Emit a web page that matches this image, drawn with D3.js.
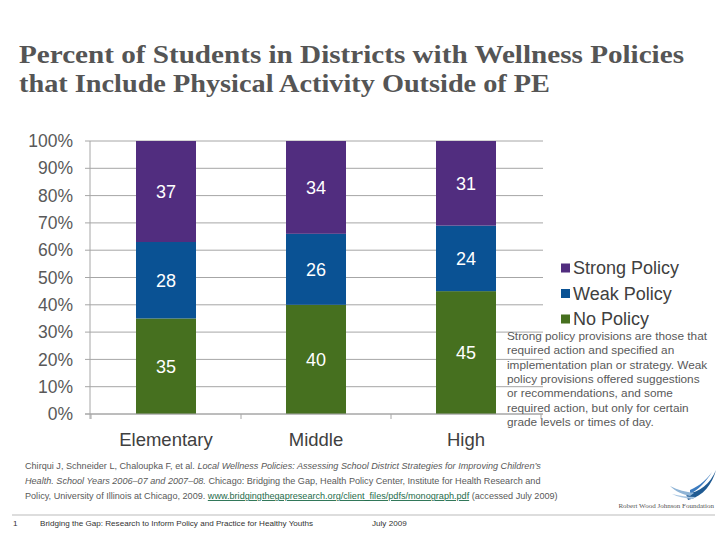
<!DOCTYPE html>
<html><head><meta charset="utf-8">
<script src="https://cdn.jsdelivr.net/npm/d3@7/dist/d3.min.js"></script>
<style>body{margin:0;background:#fff}svg{display:block}</style>
</head><body>
<svg id="c" width="720" height="540"></svg>
<script>
const categories = ["Elementary", "Middle", "High"];
const seriesNames = ["No Policy", "Weak Policy", "Strong Policy"];
const noPolicy = [35, 40, 45];
const weakPolicy = [28, 26, 24];
const strongPolicy = [37, 34, 31];
const yTicks = [0, 10, 20, 30, 40, 50, 60, 70, 80, 90, 100];
const colors = ["#46701f", "#0a5294", "#512d7f"];
const titleLines = ["Percent of Students in Districts with Wellness Policies", "that Include Physical Activity Outside of PE"];
const noteLines = ["Strong policy provisions are those that", "required action and specified an", "implementation plan or strategy. Weak", "policy provisions offered suggestions", "or recommendations, and some", "required action, but only for certain", "grade levels or times of day."];

const svg = d3.select("#c");
const F = "Liberation Sans, Arial, sans-serif";

// title
svg.append("g").selectAll("text").data(titleLines).join("text")
  .attr("x", 19).attr("y", (d, i) => 63 + i * 29)
  .attr("font-family", "Liberation Serif, Times New Roman, serif").attr("font-weight", "bold")
  .attr("font-size", 26).attr("fill", "#555")
  .attr("textLength", (d, i) => i === 0 ? 665 : 531).attr("lengthAdjust", "spacingAndGlyphs")
  .text(d => d);

const x = d3.scaleBand().domain(categories).range([91, 541]).paddingInner(0.6).paddingOuter(0.3);
const y = d3.scaleLinear().domain([0, 100]).range([414, 141]);

// gridlines
svg.append("g").selectAll("line").data(yTicks).join("line")
  .attr("x1", 85).attr("x2", 543).attr("y1", d => y(d)).attr("y2", d => y(d))
  .attr("stroke", "#a6a6a6").attr("stroke-width", 1);

// y axis
const yAxis = d3.axisLeft(y).tickValues(yTicks).tickFormat(d => d + "%").tickSize(0).tickPadding(17);
const gy = svg.append("g").attr("transform", "translate(90,0)").call(yAxis);
gy.select(".domain").remove();
gy.selectAll("text").attr("font-family", F).attr("font-size", 17.5).attr("fill", "#595959");
svg.append("line").attr("x1", 90).attr("x2", 90).attr("y1", 141).attr("y2", 419).attr("stroke", "#a6a6a6");

// stacked data
const rows = categories.map((c, i) => ({cat: c, "No Policy": noPolicy[i], "Weak Policy": weakPolicy[i], "Strong Policy": strongPolicy[i]}));
const stack = d3.stack().keys(seriesNames)(rows);

const g = svg.append("g");
stack.forEach((s, si) => {
  g.selectAll(null).data(s).join("rect")
    .attr("x", d => x(d.data.cat)).attr("width", x.bandwidth())
    .attr("y", d => y(d[1])).attr("height", d => y(d[0]) - y(d[1]))
    .attr("fill", colors[si]);
  g.selectAll(null).data(s).join("text")
    .attr("x", d => x(d.data.cat) + x.bandwidth() / 2)
    .attr("y", d => (y(d[0]) + y(d[1])) / 2)
    .attr("dy", "0.36em").attr("text-anchor", "middle")
    .attr("font-family", F).attr("font-size", 18).attr("fill", "#fff")
    .text(d => d.data[seriesNames[si]]);
});

// x axis
svg.append("line").attr("x1", 85).attr("x2", 543).attr("y1", 414).attr("y2", 414).attr("stroke", "#a6a6a6");
const bounds = [91, 91 + 150, 91 + 300, 541];
svg.append("g").selectAll("line").data(bounds).join("line")
  .attr("x1", d => d).attr("x2", d => d).attr("y1", 414).attr("y2", 419).attr("stroke", "#a6a6a6");
svg.append("g").selectAll("text").data(categories).join("text")
  .attr("x", d => x(d) + x.bandwidth() / 2).attr("y", 446).attr("text-anchor", "middle")
  .attr("font-family", F).attr("font-size", 18.5).attr("fill", "#404040").text(d => d);

// legend
const legendOrder = ["Strong Policy", "Weak Policy", "No Policy"];
const lg = svg.append("g");
legendOrder.forEach((n, i) => {
  const yy = 268 + i * 25.5;
  lg.append("rect").attr("x", 561).attr("y", yy - 4.5).attr("width", 9).attr("height", 9).attr("fill", colors[seriesNames.indexOf(n)]);
  lg.append("text").attr("x", 573).attr("y", yy).attr("dy", "0.36em")
    .attr("font-family", F).attr("font-size", 18).attr("fill", "#404040").text(n);
});

// note
svg.append("g").selectAll("text").data(noteLines).join("text")
  .attr("x", 507).attr("y", (d, i) => 340 + i * 14.3)
  .attr("font-family", F).attr("font-size", 11.8).attr("fill", "#595959").text(d => d);

// citation
const cit = svg.append("g").attr("font-family", F).attr("font-size", 9.1).attr("fill", "#595959");
const t1 = cit.append("text").attr("x", 25).attr("y", 469);
t1.append("tspan").text("Chirqui J, Schneider L, Chaloupka F, et al. ");
t1.append("tspan").attr("font-style", "italic").text("Local Wellness Policies: Assessing School District Strategies for Improving Children’s");
const t2 = cit.append("text").attr("x", 25).attr("y", 484);
t2.append("tspan").attr("font-style", "italic").text("Health. School Years 2006–07 and 2007–08.");
t2.append("tspan").text("  Chicago: Bridging the Gap, Health Policy Center, Institute for Health Research and");
const t3 = cit.append("text").attr("x", 25).attr("y", 499);
t3.append("tspan").text("Policy, University of Illinois at Chicago, 2009. ");
t3.append("tspan").attr("fill", "#1e6b4a").attr("text-decoration", "underline").text("www.bridgingthegapresearch.org/client_files/pdfs/monograph.pdf");
t3.append("tspan").text(" (accessed July 2009)");

// logo
const logo = svg.append("g");
logo.append("path").attr("d", "M686,494 C700,492 710,484 716,470 C712,484 704,496 688,500 Z").attr("fill", "#1f5a92");
logo.append("path").attr("d", "M690,490 C700,486 708,478 712,472 C706,482 698,490 690,494 Z").attr("fill", "#3b7bbf");
logo.append("path").attr("d", "M690,496 C682,494 676,492 670,486 C678,490 686,492 694,493 Z").attr("fill", "#8fb4d6");
logo.append("path").attr("d", "M692,499 C684,498 678,497 672,494 C680,496 688,497 696,497 Z").attr("fill", "#a9c6e2");
logo.append("text").attr("x", 714).attr("y", 508).attr("text-anchor", "end")
  .attr("font-family", "Liberation Serif, Times New Roman, serif").attr("font-size", 7).attr("fill", "#555")
  .text("Robert Wood Johnson Foundation");

// footer
svg.append("line").attr("x1", 12).attr("x2", 715).attr("y1", 515).attr("y2", 515).attr("stroke", "#bbb");
const ft = svg.append("g").attr("font-family", F).attr("font-size", 8.1).attr("fill", "#333");
ft.append("text").attr("x", 13).attr("y", 526).text("1");
ft.append("text").attr("x", 40).attr("y", 526).text("Bridging the Gap: Research to Inform Policy and Practice for Healthy Youths");
ft.append("text").attr("x", 372).attr("y", 526).text("July 2009");
</script>
</body></html>
